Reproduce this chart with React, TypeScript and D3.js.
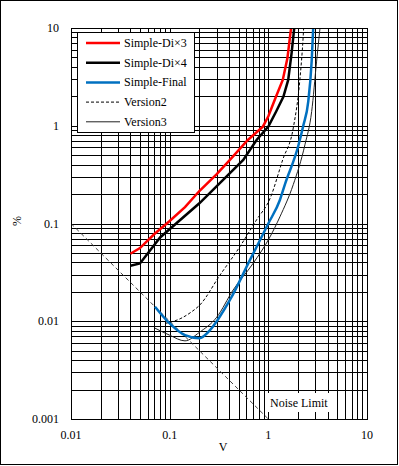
import React, { useEffect, useRef } from 'react';
import * as d3 from 'd3';

type Pt = [number, number];

// V, %
const diX3: Pt[] = [
  [0.04, 0.049], [0.05, 0.056], [0.07, 0.078], [0.1, 0.106], [0.143, 0.147], [0.2, 0.215],
  [0.3, 0.32], [0.408, 0.447], [0.62, 0.715], [0.88, 0.98], [1.0, 1.25], [1.2, 2.0],
  [1.4, 2.94], [1.56, 4.9], [1.7, 10],
];
const diX4: Pt[] = [
  [0.04, 0.037], [0.05, 0.039], [0.08, 0.072], [0.2, 0.161], [0.557, 0.447], [0.76, 0.715],
  [1.0, 0.98], [1.2, 1.4], [1.42, 1.98], [1.59, 2.94], [1.72, 5.5], [1.83, 10],
];
const simpleFinal: Pt[] = [
  [0.071, 0.0141], [0.1, 0.0095], [0.143, 0.0072], [0.2, 0.0067], [0.256, 0.0081], [0.31, 0.0105],
  [0.408, 0.0165], [0.652, 0.0424], [1.0, 0.1], [1.31, 0.174], [1.47, 0.25], [2.01, 0.62],
  [2.26, 1.0], [2.54, 1.78], [2.75, 4.6], [2.85, 10],
];
const version2: Pt[] = [
  [0.09, 0.0095], [0.13, 0.0107], [0.167, 0.0125], [0.2, 0.0145], [0.324, 0.0297], [0.515, 0.058],
  [0.76, 0.109], [1.04, 0.18], [1.4, 0.45], [1.79, 0.95], [2.09, 3.0], [2.26, 8.5], [2.28, 10],
];
const version3: Pt[] = [
  [0.071, 0.0085], [0.1, 0.0072], [0.143, 0.0063], [0.2, 0.0077], [0.3, 0.011], [0.44, 0.0209],
  [0.7, 0.039], [1.04, 0.073], [1.31, 0.117], [1.79, 0.25], [2.35, 0.64], [2.75, 1.4],
  [3.08, 4.5], [3.34, 10],
];
const noiseLimit: Pt[] = [[0.01, 0.1], [1, 0.001]];

const xTicks = [0.01, 0.1, 1, 10];
const yTicks = [0.001, 0.01, 0.1, 1, 10];
const xTickLabels = ['0.01', '0.1', '1', '10'];
const yTickLabels = ['0.001', '0.01', '0.1', '1', '10'];

const legendNames = ['Simple-Di×3', 'Simple-Di×4', 'Simple-Final', 'Version2', 'Version3'];

const App: React.FC = () => {
  const svgRef = useRef<SVGSVGElement>(null);

  useEffect(() => {
    if (!svgRef.current) return;
    document.body.style.margin = '0';
    const width = 399;
    const height = 466;
    const left = 71, right = 367, top = 28, bottom = 419;
    const font = "'Liberation Serif', 'Times New Roman', Times, serif";

    const svg = d3.select(svgRef.current);
    svg.selectAll('*').remove();
    svg.style('font-family', font);

    svg.append('rect').attr('x', 0).attr('y', 0).attr('width', width).attr('height', height).attr('fill', '#fff');
    svg.append('rect').attr('x', 0.5).attr('y', 0.5).attr('width', 397).attr('height', 464)
      .attr('fill', 'none').attr('stroke', '#000').attr('stroke-width', 1);

    const x = d3.scaleLog().domain([0.01, 10]).range([left, right]);
    const y = d3.scaleLog().domain([0.001, 10]).range([bottom, top]);
    const crisp = (v: number) => Math.round(v) + 0.5;

    // grid (major + minor)
    const gridVals = (lo: number, hi: number) => {
      const out: number[] = [];
      for (let e = Math.log10(lo); e < Math.log10(hi); e++) {
        for (let m = 1; m <= 9; m++) out.push(m * Math.pow(10, e));
      }
      out.push(hi);
      return out;
    };
    const grid = svg.append('g').attr('stroke', '#000').attr('stroke-width', 1);
    gridVals(0.01, 10).forEach((v) => {
      grid.append('line').attr('x1', crisp(x(v))).attr('x2', crisp(x(v)))
        .attr('y1', top).attr('y2', bottom);
    });
    gridVals(0.001, 10).forEach((v) => {
      grid.append('line').attr('y1', crisp(y(v))).attr('y2', crisp(y(v)))
        .attr('x1', left).attr('x2', right);
    });

    // Noise limit label box
    svg.append('rect').attr('x', 266).attr('y', 393).attr('width', 66).attr('height', 19).attr('fill', '#fff');
    svg.append('text').attr('x', 270).attr('y', 407).attr('font-size', 12).text('Noise Limit');

    svg.append('clipPath').attr('id', 'plotClip').append('rect')
      .attr('x', left).attr('y', top).attr('width', right - left).attr('height', bottom - top);

    const line = d3.line<Pt>().x((d) => x(d[0])).y((d) => y(d[1]));
    const smooth = d3.line<Pt>().x((d) => x(d[0])).y((d) => y(d[1])).curve(d3.curveMonotoneX);
    const plot = svg.append('g').attr('clip-path', 'url(#plotClip)').attr('fill', 'none');

    plot.append('path').attr('d', line(noiseLimit)).attr('stroke', '#404040').attr('stroke-width', 1)
      .attr('stroke-dasharray', '4,3');
    plot.append('path').attr('d', smooth(version2)).attr('stroke', '#000').attr('stroke-width', 1)
      .attr('stroke-dasharray', '3,2');
    plot.append('path').attr('d', smooth(version3)).attr('stroke', '#222').attr('stroke-width', 1);
    plot.append('path').attr('d', smooth(simpleFinal)).attr('stroke', '#0070c0').attr('stroke-width', 2.5);
    plot.append('path').attr('d', line(diX4)).attr('stroke', '#000').attr('stroke-width', 2.5);
    plot.append('path').attr('d', line(diX3)).attr('stroke', '#ff0000').attr('stroke-width', 2.5);

    // plot border
    svg.append('rect').attr('x', left + 0.5).attr('y', top + 0.5).attr('width', right - left)
      .attr('height', bottom - top).attr('fill', 'none').attr('stroke', '#000');

    // tick labels
    xTicks.forEach((v, i) => {
      svg.append('text').attr('x', x(v)).attr('y', 439).attr('text-anchor', 'middle')
        .attr('font-size', 12).text(xTickLabels[i]);
    });
    yTicks.forEach((v, i) => {
      svg.append('text').attr('x', 59).attr('y', y(v) + 4).attr('text-anchor', 'end')
        .attr('font-size', 12).text(yTickLabels[i]);
    });
    svg.append('text').attr('x', 223).attr('y', 451).attr('text-anchor', 'middle')
      .attr('font-size', 12).text('V');
    svg.append('text').attr('transform', 'translate(21,221) rotate(-90)').attr('text-anchor', 'middle')
      .attr('font-size', 12).text('%');

    // legend
    const lg = svg.append('g');
    lg.append('rect').attr('x', 77.5).attr('y', 32.5).attr('width', 117).attr('height', 100)
      .attr('fill', '#fff').attr('stroke', '#000');
    const styles = [
      { c: '#ff0000', w: 2.5, dash: null },
      { c: '#000', w: 2.5, dash: null },
      { c: '#0070c0', w: 2.5, dash: null },
      { c: '#000', w: 1, dash: '3,2' },
      { c: '#222', w: 1, dash: null },
    ];
    legendNames.forEach((name, i) => {
      const cy = 43 + i * 19.7;
      lg.append('line').attr('x1', 86).attr('x2', 120).attr('y1', cy).attr('y2', cy)
        .attr('stroke', styles[i].c).attr('stroke-width', styles[i].w)
        .attr('stroke-dasharray', styles[i].dash);
      lg.append('text').attr('x', 124).attr('y', cy + 4).attr('font-size', 12).text(name);
    });
  }, []);

  return (
    <svg ref={svgRef} width={399} height={466}
      style={{ position: 'absolute', left: 0, top: 0, display: 'block' }} />
  );
};

export default App;
